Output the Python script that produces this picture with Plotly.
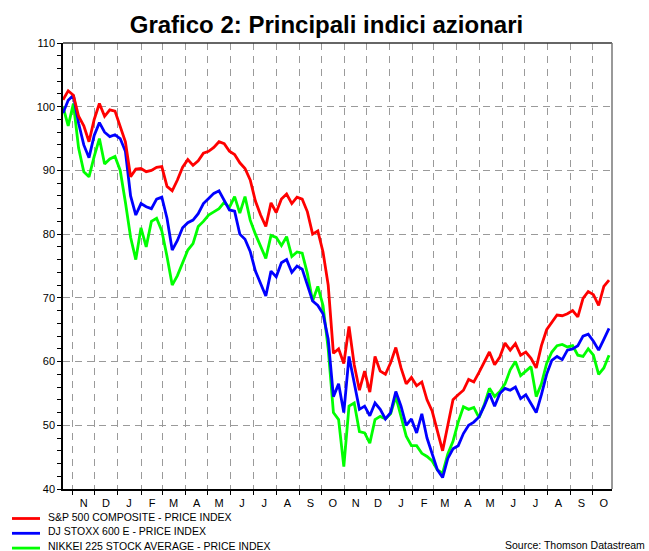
import pandas as pd
import plotly.graph_objects as go

# weekly readings, indexed to 100 at the start (Oct 2007)
START = "2007-10-19"
SP500 = [101.1, 102.5, 101.8, 98.5, 97.0, 94.5, 98.0, 100.5, 98.5, 99.5,
         99.3, 96.9, 94.5, 89.0, 90.2, 90.3, 89.8, 90.0, 90.5, 90.6,
         87.5, 86.8, 88.5, 90.5, 91.7, 90.8, 91.5, 92.7, 93.0, 93.6,
         94.5, 94.2, 93.0, 92.5, 91.2, 90.3, 88.5, 85.2, 83.0, 81.2,
         84.9, 83.4, 85.5, 86.3, 84.8, 85.8, 85.5, 83.5, 80.0, 80.5,
         77.2, 72.0, 61.3, 62.0, 59.7, 65.5, 59.5, 55.5, 58.5, 55.2,
         60.8, 58.5, 58.0, 59.8, 62.2, 59.0, 56.5, 57.5, 56.2, 56.8,
         54.0, 52.2, 49.0, 46.0, 50.0, 54.0, 54.8, 55.5, 57.2, 56.8,
         58.3, 60.0, 61.5, 59.5, 60.7, 62.9, 61.8, 62.8, 61.0, 61.5,
         60.5, 59.0, 62.5, 65.0, 66.2, 67.3, 67.2, 67.5, 68.0, 67.0,
         69.9, 71.0, 70.5, 68.8, 71.8, 72.8]
STOXX600 = [99.0, 101.0, 101.8, 97.4, 94.0, 92.0, 95.5, 97.5, 96.0, 95.3,
            95.6, 95.0, 93.0, 86.0, 83.0, 84.8, 84.3, 84.0, 85.5, 85.8,
            82.5, 77.5, 79.0, 81.0, 81.8, 82.2, 83.2, 84.8, 85.6, 86.4,
            86.8, 85.2, 83.8, 83.6, 80.0, 79.2, 77.3, 74.2, 72.2, 70.3,
            74.2, 73.3, 75.5, 76.0, 74.0, 75.0, 74.5, 72.0, 69.5, 68.8,
            67.5, 63.5, 54.5, 56.5, 52.0, 60.8, 56.5, 52.5, 53.0, 51.5,
            53.5, 52.5, 51.0, 52.0, 55.3, 53.0, 50.0, 51.0, 48.8, 51.8,
            48.0, 45.5, 43.0, 41.8, 44.8, 46.3, 46.8, 48.7, 50.0, 50.5,
            51.3, 53.0, 55.0, 53.0, 55.0, 55.8, 55.5, 56.0, 54.2, 54.8,
            53.5, 52.0, 54.8, 58.0, 60.2, 60.8, 60.3, 61.8, 62.0, 62.5,
            64.0, 64.3, 63.2, 61.8, 63.5, 65.2]
NIKKEI225 = [100.0, 97.0, 100.5, 93.5, 89.8, 89.0, 92.2, 95.0, 91.0, 91.8,
             92.2, 90.0, 85.0, 79.5, 76.0, 81.0, 78.0, 82.0, 82.5, 80.5,
             76.5, 72.0, 73.5, 75.5, 77.5, 78.5, 81.2, 82.0, 83.0, 83.5,
             84.0, 85.0, 84.2, 85.9, 83.3, 85.9, 82.2, 80.0, 78.0, 76.2,
             79.8, 79.5, 78.2, 79.6, 76.5, 77.2, 77.0, 73.8, 69.5, 71.8,
             68.8, 62.0, 52.0, 50.9, 43.5, 53.0, 53.5, 49.0, 48.8, 47.2,
             50.9, 51.4, 51.0, 51.8, 54.5, 51.5, 48.3, 46.8, 46.8, 45.6,
             45.1, 44.4, 43.0, 42.5, 45.5, 47.5, 50.5, 52.9, 52.5, 52.8,
             51.2, 53.2, 55.8, 54.5, 55.3, 56.5, 58.7, 60.0, 57.8, 58.5,
             59.2, 54.5, 56.5, 59.7, 61.5, 62.5, 62.7, 62.3, 62.5, 61.0,
             60.8, 62.0, 61.0, 58.0, 59.0, 61.0]
NAMES = ["S&P 500 COMPOSITE - PRICE INDEX",
         "DJ STOXX 600 E - PRICE INDEX",
         "NIKKEI 225 STOCK AVERAGE - PRICE INDEX"]
COLORS = ["#ff0000", "#0000ff", "#00ff00"]
MONTHS = list("NDJFMAMJJASO") * 2
YEAR_STARTS = ["2008-01-01", "2009-01-01"]

FONT = "Liberation Sans, Arial, Helvetica, sans-serif"
GRID = "#9a9a9a"
X_RANGE = ["2007-10-19", "2009-10-27"]

dates = pd.date_range(START, periods=len(SP500), freq="7D")
month_starts = pd.date_range("2007-11-01", periods=len(MONTHS), freq="MS")
month_mid = month_starts + pd.Timedelta(days=15)

fig = go.Figure()
# green drawn first, red on top
for name, vals, col in list(zip(NAMES, [SP500, STOXX600, NIKKEI225], COLORS))[::-1]:
    fig.add_trace(go.Scatter(x=dates, y=vals, mode="lines", name=name,
                             line=dict(color=col, width=2.8), showlegend=False))

fig.update_layout(
    width=649, height=551,
    margin=dict(l=63, r=37, t=43, b=62, autoexpand=False),
    plot_bgcolor="white", paper_bgcolor="white",
    font=dict(family=FONT, size=11, color="black"),
    title=dict(text="<b>Grafico 2: Principali indici azionari</b>",
               font=dict(family=FONT, size=24, color="black"),
               x=0.503, xref="container", xanchor="center",
               y=1 - 25 / 551, yref="container", yanchor="middle"),
    xaxis=dict(type="date", range=X_RANGE, tickmode="array",
               tickvals=month_mid, ticktext=MONTHS, ticks="", showgrid=False,
               showline=True, linecolor="black", linewidth=1.5, zeroline=False,
               tickfont=dict(size=11), ticklabelstandoff=3,
               minor=dict(tickmode="linear", tick0="2007-11-01", dtick="M1",
                          ticks="outside", ticklen=4, tickcolor="black",
                          showgrid=True, gridcolor=GRID, griddash="7px,6px",
                          gridwidth=1)),
    xaxis2=dict(type="date", range=X_RANGE, overlaying="x", anchor="y",
                tickmode="linear", tick0="2007-11-01", dtick="M1",
                ticks="inside", ticklen=4, tickcolor="black",
                showticklabels=False, showgrid=False, showline=False, zeroline=False),
    xaxis3=dict(type="date", range=X_RANGE, overlaying="x", anchor="y",
                tickmode="array", tickvals=YEAR_STARTS, ticks="outside",
                ticklen=8, tickcolor="black", tickwidth=1.2,
                showticklabels=False, showgrid=False, showline=False, zeroline=False),
    yaxis=dict(range=[40, 110], tickmode="linear", tick0=40, dtick=10,
               ticks="outside", ticklen=4, tickcolor="black",
               showgrid=True, gridcolor=GRID, griddash="7px,5px", gridwidth=1,
               showline=True, linecolor="black", linewidth=1.5, zeroline=False,
               tickfont=dict(size=11),
               minor=dict(dtick=2, ticks="outside", ticklen=4, tickcolor="black",
                          showgrid=False)),
)

# frame: dark top edge, grey right edge
fig.add_shape(type="line", xref="paper", yref="paper", x0=0, x1=1, y0=1, y1=1,
              line=dict(color="#333333", width=1.5))
fig.add_shape(type="line", xref="paper", yref="paper", x0=1, x1=1, y0=0, y1=1,
              line=dict(color="#777777", width=1.5))

# legend below the plot, drawn by hand to get the tight row spacing
px_x = lambda px: (px - 63) / 549
px_y = lambda py: (489 - py) / 446
for k, (name, col) in enumerate(zip(NAMES, COLORS)):
    row = 518.5 + 14.8 * k
    fig.add_shape(type="line", xref="paper", yref="paper",
                  x0=px_x(12), x1=px_x(40), y0=px_y(row), y1=px_y(row),
                  line=dict(color=col, width=2.8))
    fig.add_annotation(text=name, xref="paper", yref="paper",
                       x=px_x(46), y=px_y(row - 2), xanchor="left", yanchor="middle",
                       showarrow=False, font=dict(family=FONT, size=10.5))

fig.add_annotation(text="Source: Thomson Datastream", xref="paper", yref="paper",
                   x=px_x(647), y=px_y(545), xanchor="right", yanchor="middle",
                   showarrow=False, font=dict(family=FONT, size=10.5))

fig.write_html("out.html", config={"displayModeBar": False},
               post_script="document.body.style.margin='0';")
